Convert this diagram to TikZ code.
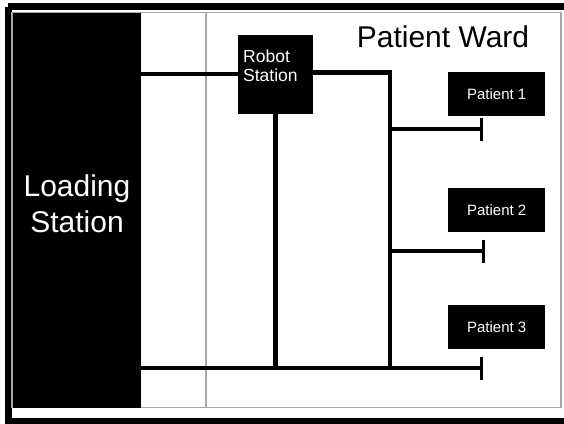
\documentclass[tikz,border=0pt]{standalone}
\usepackage{fontspec}
\setmainfont{Liberation Sans}
\usepackage{tikz}
\usetikzlibrary{arrows.meta,calc,positioning}
\tikzset{blockbox/.style={fill=black,text=white,inner sep=0pt,anchor=north west}}
\begin{document}
\begin{tikzpicture}[x=1pt,y=-1pt,line join=miter,
  wire/.style={line width=4.5pt},
  endbar/.style={-{Bar[width=23pt,line width=3.5pt]}},
  frame/.style={draw=gray!70,line width=1.5pt}]
\clip (0,0) rectangle (564,423);
\fill[white] (0,0) rectangle (564,423);
% --- outer frame and ward outline
\draw[line width=7pt] (8,6.5) -- (580,6.5) (8,6.5) -- (8,421.5) -- (580,421.5);
\draw[frame] (12,12.5) rectangle (561,407.5);
\draw[frame] (206,12.5) -- (206,407.5);
% --- stations
\node[blockbox,minimum width=128pt,minimum height=395pt] (load) at (13,13) {};
\node[text=white,align=center,font=\fontsize{30}{36}\selectfont] (loadtxt) at (77,204) {Loading\\Station};
\node[blockbox,minimum width=75pt,minimum height=79pt] (robot) at (238,35) {};
\node[text=white,align=left,inner sep=0pt,anchor=north west,font=\fontsize{17.5}{19}\selectfont] (robottxt) at ([xshift=5pt,yshift=-15pt]robot.north west) {Robot\\Station};
\node[font=\fontsize{30}{36}\selectfont] (ward) at (443,37) {Patient Ward};
% --- patients
\foreach \i/\y in {1/72,2/188,3/305}
  \node[blockbox,minimum width=97pt,minimum height=44pt,font=\fontsize{15}{18}\selectfont] (pat\i) at (448,\y) {Patient \i};
% --- track
\coordinate (bustop) at (390,72.5); \coordinate (busbot) at (390,368);
\coordinate (end1) at (483,129); \coordinate (end2) at (485,251); \coordinate (end3) at (483,368);
\draw[wire] (load.east |- 0,74) -- (robot.west |- 0,74);
\draw[wire] (robot.east |- bustop) -- (bustop) -- (busbot);
\draw[wire] (robot.south) -- (robot.south |- busbot);
\draw[wire,endbar] (load.east |- busbot) -- (end3);
\draw[wire,endbar] (bustop |- end1) -- (end1);
\draw[wire,endbar] (bustop |- end2) -- (end2);
\end{tikzpicture}
\end{document}
